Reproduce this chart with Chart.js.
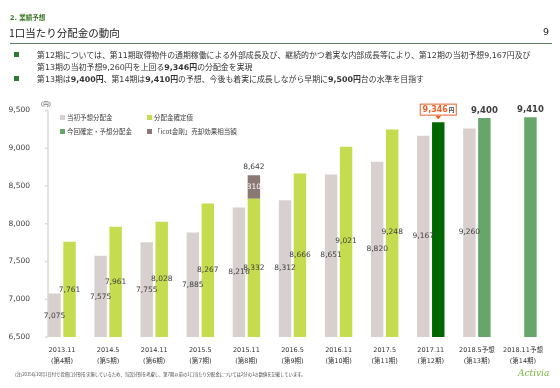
<!DOCTYPE html>
<html>
<head>
<meta charset="utf-8">
<script src="https://cdn.jsdelivr.net/npm/chart.js@4/dist/chart.umd.min.js"></script>
<style>
  html, body { margin: 0; padding: 0; background: #fff; }
  #page { position: relative; width: 560px; height: 388px; overflow: hidden;
    font-family: "DejaVu Sans", "Noto Sans CJK JP", sans-serif; color: #333; }
  #page canvas { position: absolute; left: 0; top: 0; }
  .abs { position: absolute; white-space: nowrap; }
  .section { left: 10px; top: 12px; font-size: 6.5px; font-weight: bold; color: #3a7a26; }
  .title { left: 9px; top: 25px; font-size: 10.5px; color: #222; font-family: "Noto Sans CJK JP", sans-serif; }
  .pnum { left: 543px; top: 26px; font-size: 9.5px; color: #222; }
  .rule { left: 10px; top: 43px; width: 542px; height: 1px; background: #5d8060; }
  .bullet { left: 14px; width: 5px; height: 5px; background: #2e7a2e; }
  .txt { left: 37px; font-size: 7.9px; color: #333; }
  .txt b { font-weight: bold; }
  .unit { left: 41px; top: 100px; font-size: 5.5px; color: #404040; }
  .leg { font-size: 6.5px; color: #404040; font-family: "Noto Sans CJK JP", sans-serif; }
  .sw { width: 5px; height: 5px; }
  .note { left: 15px; top: 371px; font-size: 4.3px; color: #444; font-family: "Noto Sans CJK JP", sans-serif; }
  .logo { left: 518px; top: 368px; font-size: 9px; font-style: italic; color: #7cb342; font-family: "DejaVu Serif", serif; }
</style>
</head>
<body>
<div id="page">
  <canvas id="chart" width="560" height="388"></canvas>
  <div class="abs section">2. 業績予想</div>
  <div class="abs title">1口当たり分配金の動向</div>
  <div class="abs pnum">9</div>
  <div class="abs rule"></div>
  <div class="abs bullet" style="top:52px"></div>
  <div class="abs txt" style="top:49px">第12期については、第11期取得物件の通期稼働による外部成長及び、継続的かつ着実な内部成長等により、第12期の当初予想9,167円及び</div>
  <div class="abs txt" style="top:61px">第13期の当初予想9,260円を上回る<b>9,346円</b>の分配金を実現</div>
  <div class="abs bullet" style="top:76px"></div>
  <div class="abs txt" style="top:73px">第13期は<b>9,400円</b>、第14期は<b>9,410円</b>の予想、今後も着実に成長しながら早期に<b>9,500円</b>台の水準を目指す</div>
  <div class="abs unit">(円)</div>
  <div id="legend"></div>
  <div class="abs note">(注)2015年10月1日付で投資口分割を実施しているため、当該分割を考慮し、第7期以前の1口当たり分配金については2分の1の数値を記載しています。</div>
  <div class="abs logo">Activia</div>
</div>
<script>
// data
const categories = [
  ['2013.11', '(第4期)'], ['2014.5', '(第5期)'], ['2014.11', '(第6期)'], ['2015.5', '(第7期)'],
  ['2015.11', '(第8期)'], ['2016.5', '(第9期)'], ['2016.11', '(第10期)'], ['2017.5', '(第11期)'],
  ['2017.11', '(第12期)'], ['2018.5予想', '(第13期)'], ['2018.11予想', '(第14期)']
];
const initialForecast = [7075, 7575, 7755, 7885, 8216, 8312, 8651, 8820, 9167, 9260, null];
const confirmed = [7761, 7961, 8028, 8267, 8332, 8666, 9021, 9248, null, null, null];
const icotEffect = [null, null, null, null, 310, null, null, null, null, null, null];
const latestActual = [null, null, null, null, null, null, null, null, 9346, null, null];
const forecast = [null, null, null, null, null, null, null, null, null, 9400, 9410];
const yTicks = [6500, 7000, 7500, 8000, 8500, 9000, 9500];

const legendNames = ['当初予想分配金', '分配金確定値', '今回確定・予想分配金', '「icot金剛」売却効果相当額'];

const paleColor = '#d8d0ce';
const limeColor = '#c4dc4e';
const darkGreen = '#006600';
const midGreen = '#66a66a';
const brownColor = '#8a7874';
const labelColor = '#404040';
const orange = '#e8622a';

const fmt = v => v.toLocaleString('en-US');

// legend (html, two rows of two)
const legendColors = [paleColor, limeColor, midGreen, brownColor];
const legendEl = document.getElementById('legend');
legendNames.forEach((name, i) => {
  const col = i % 2, row = Math.floor(i / 2);
  const x = col === 0 ? 60 : 147;
  const y = row === 0 ? 117 : 131;
  const sw = document.createElement('div');
  sw.className = 'abs sw';
  sw.style.left = x + 'px';
  sw.style.top = (y - 2.5) + 'px';
  sw.style.background = legendColors[i];
  legendEl.appendChild(sw);
  const t = document.createElement('div');
  t.className = 'abs leg';
  t.style.left = (x + 7) + 'px';
  t.style.top = (y - 5) + 'px';
  t.textContent = name;
  legendEl.appendChild(t);
});

// thin grey value axis line, sitting a little inside the plot
const axisLine = {
  id: 'axisLine',
  beforeDatasetsDraw(chart) {
    const {ctx, chartArea} = chart;
    const y = chart.scales.y;
    const x = chartArea.left + 9;
    ctx.save();
    ctx.strokeStyle = '#d9d9d9';
    ctx.lineWidth = 1.5;
    ctx.beginPath();
    ctx.moveTo(x, chartArea.top);
    ctx.lineTo(x, chartArea.bottom);
    yTicks.forEach(t => {
      const py = y.getPixelForValue(t);
      ctx.moveTo(x - 3, py);
      ctx.lineTo(x, py);
    });
    ctx.stroke();
    ctx.restore();
  }
};

const valueLabels = {
  id: 'valueLabels',
  afterDatasetsDraw(chart) {
    const ctx = chart.ctx;
    const lbl = chart.scales.lbl;
    ctx.save();
    ctx.textAlign = 'center';
    ctx.textBaseline = 'middle';
    ctx.font = '7.5px "DejaVu Sans"';
    ctx.fillStyle = labelColor;

    // low-set labels for forecast / confirmed bars
    [0, 1].forEach(di => {
      const meta = chart.getDatasetMeta(di);
      chart.data.datasets[di].data.forEach((v, i) => {
        if (v == null) return;
        ctx.fillText(fmt(v), meta.data[i].x, lbl.getPixelForValue(v));
      });
    });

    // icot effect: value inside, total above
    const icMeta = chart.getDatasetMeta(2);
    icotEffect.forEach((v, i) => {
      if (v == null) return;
      const bar = icMeta.data[i];
      ctx.fillStyle = '#fff';
      ctx.fillText(fmt(v), bar.x, (bar.y + bar.base) / 2);
      ctx.fillStyle = labelColor;
      ctx.fillText(fmt(v + confirmed[i]), bar.x, bar.y - 8);
    });

    // forecasts above bars
    ctx.font = 'bold 8.5px "DejaVu Sans"';
    const fMeta = chart.getDatasetMeta(4);
    forecast.forEach((v, i) => {
      if (v == null) return;
      ctx.fillText(fmt(v), fMeta.data[i].x, fMeta.data[i].y - 7);
    });

    // callout for latest actual
    const aMeta = chart.getDatasetMeta(3);
    latestActual.forEach((v, i) => {
      if (v == null) return;
      const bar = aMeta.data[i];
      const bottom = bar.y - 6.5;
      const h = 12, w = 37;
      ctx.fillStyle = '#fff';
      ctx.strokeStyle = orange;
      ctx.lineWidth = 1;
      ctx.fillRect(bar.x - w / 2, bottom - h, w, h);
      ctx.strokeRect(bar.x - w / 2 + 0.5, bottom - h + 0.5, w - 1, h - 1);
      ctx.fillStyle = orange;
      ctx.beginPath();
      ctx.moveTo(bar.x - 3, bottom);
      ctx.lineTo(bar.x + 3, bottom);
      ctx.lineTo(bar.x, bottom + 3.5);
      ctx.closePath();
      ctx.fill();
      const num = fmt(v);
      ctx.font = 'bold 8px "DejaVu Sans"';
      const nw = ctx.measureText(num).width;
      ctx.font = 'bold 6px "Noto Sans CJK JP"';
      const yw = ctx.measureText('円').width;
      const sx = bar.x - (nw + yw) / 2;
      ctx.textAlign = 'left';
      ctx.font = 'bold 8px "DejaVu Sans"';
      ctx.fillText(num, sx, bottom - h / 2);
      ctx.fillStyle = '#444';
      ctx.font = 'bold 6px "Noto Sans CJK JP"';
      ctx.fillText('円', sx + nw + 0.5, bottom - h / 2 + 0.5);
      ctx.textAlign = 'center';
    });
    ctx.restore();
  }
};

const barOpts = { categoryPercentage: 0.65, barPercentage: 0.83 };

new Chart(document.getElementById('chart'), {
  type: 'bar',
  data: {
    labels: categories,
    datasets: [
      { label: legendNames[0], data: initialForecast, backgroundColor: paleColor, stack: 'a', ...barOpts },
      { label: legendNames[1], data: confirmed, backgroundColor: limeColor, stack: 'b', ...barOpts },
      { label: legendNames[3], data: icotEffect, backgroundColor: brownColor, stack: 'b', ...barOpts },
      { label: legendNames[2], data: latestActual, backgroundColor: darkGreen, stack: 'b', ...barOpts },
      { label: legendNames[2], data: forecast, backgroundColor: midGreen, stack: 'b', ...barOpts }
    ]
  },
  options: {
    responsive: false,
    animation: false,
    layout: { padding: { top: 110.5, right: 14, left: 0, bottom: 0 } },
    plugins: { legend: { display: false }, tooltip: { enabled: false } },
    scales: {
      x: {
        grid: { display: false },
        border: { display: false },
        afterFit: s => { s.height = 51; },
        ticks: {
          autoSkip: false, maxRotation: 0, padding: 0,
          color: '#333',
          font: { size: 6.5, family: '"DejaVu Sans", "Noto Sans CJK JP"', lineHeight: 1.65 }
        }
      },
      y: {
        min: 6500, max: 9500,
        grid: { display: false },
        border: { display: false },
        afterFit: s => { s.width = 39; },
        afterBuildTicks: s => { s.ticks = yTicks.map(v => ({ value: v })); },
        ticks: {
          padding: 1,
          color: labelColor,
          font: { size: 7.5, family: '"DejaVu Sans"' },
          callback: v => fmt(v)
        }
      },
      lbl: {
        type: 'linear', axis: 'y', position: 'right', display: false,
        min: 6530, max: 12420
      }
    }
  },
  plugins: [axisLine, valueLabels]
});
</script>
</body>
</html>
